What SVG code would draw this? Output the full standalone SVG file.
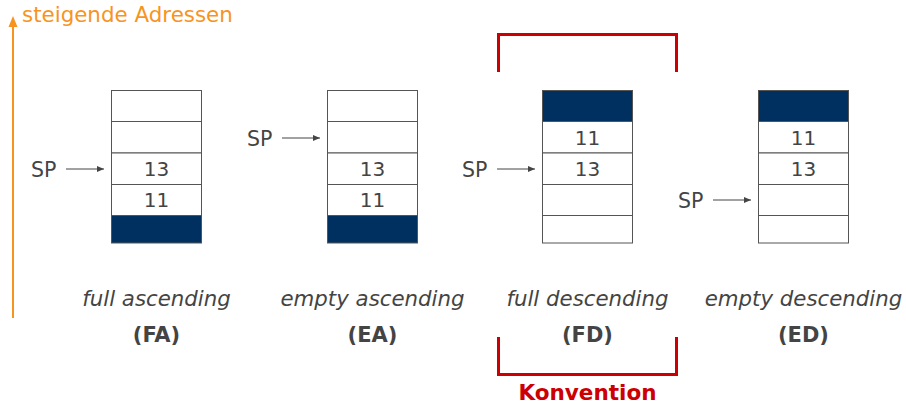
<svg xmlns="http://www.w3.org/2000/svg" width="906" height="403" viewBox="0 0 906 403">
  <style>
    text { font-family: "DejaVu Sans", "Liberation Sans", sans-serif; fill: #444; }
    .cell { fill: #fff; stroke: #555; stroke-width: 1; }
    .base { fill: #003060; stroke: #555; stroke-width: 1; }
    .num { font-size: 20px; text-anchor: middle; }
    .sp { font-size: 20.5px; }
    .ptr { stroke: #444; stroke-width: 1; fill: none; }
    .name { font-size: 21.3px; font-style: italic; text-anchor: middle; }
    .abbr { font-size: 21px; font-weight: bold; text-anchor: middle; }
    .conv { stroke: #cc0000; stroke-width: 3; fill: none; }
  </style>
  <defs>
    <marker id="ptrHead" markerWidth="8" markerHeight="8" refX="7" refY="4" orient="auto" markerUnits="userSpaceOnUse">
      <path d="M0,1 L7,4 L0,7 Z" fill="#444"/>
    </marker>
  </defs>

  <!-- address direction -->
  <g id="address-axis">
    <line x1="13" y1="318" x2="13" y2="26" stroke="#f7941d" stroke-width="2"/>
    <path d="M8.5,27 L13,16 L17.5,27 Z" fill="#f7941d"/>
    <text x="22" y="22" style="font-size:21.4px; fill:#f7941d">steigende Adressen</text>
  </g>

  <!-- full ascending -->
  <g id="stack-fa">
    <rect class="cell" x="111.5" y="90.5" width="90" height="31"/>
    <rect class="cell" x="111.5" y="121.5" width="90" height="31.5"/>
    <rect class="cell" x="111.5" y="153" width="90" height="31.5"/>
    <rect class="cell" x="111.5" y="184.5" width="90" height="31"/>
    <rect class="base" x="111.5" y="215.5" width="90" height="27.5"/>
    <text class="num" x="156.5" y="176">13</text>
    <text class="num" x="156.5" y="207">11</text>
    <text class="name" x="156.5" y="306">full ascending</text>
    <text class="abbr" x="156.5" y="342">(FA)</text>
  </g>

  <!-- empty ascending -->
  <g id="stack-ea">
    <rect class="cell" x="327.5" y="90.5" width="90" height="31"/>
    <rect class="cell" x="327.5" y="121.5" width="90" height="31.5"/>
    <rect class="cell" x="327.5" y="153" width="90" height="31.5"/>
    <rect class="cell" x="327.5" y="184.5" width="90" height="31"/>
    <rect class="base" x="327.5" y="215.5" width="90" height="27.5"/>
    <text class="num" x="372.5" y="176">13</text>
    <text class="num" x="372.5" y="207">11</text>
    <text class="name" x="372.5" y="306">empty ascending</text>
    <text class="abbr" x="372.5" y="342">(EA)</text>
  </g>

  <!-- full descending -->
  <g id="stack-fd">
    <rect class="base" x="542.5" y="90.5" width="90" height="31"/>
    <rect class="cell" x="542.5" y="121.5" width="90" height="31.5"/>
    <rect class="cell" x="542.5" y="153" width="90" height="31.5"/>
    <rect class="cell" x="542.5" y="184.5" width="90" height="31"/>
    <rect class="cell" x="542.5" y="215.5" width="90" height="27.5"/>
    <text class="num" x="587.5" y="145">11</text>
    <text class="num" x="587.5" y="176">13</text>
    <text class="name" x="587.5" y="306">full descending</text>
    <text class="abbr" x="587.5" y="342">(FD)</text>
  </g>

  <!-- empty descending -->
  <g id="stack-ed">
    <rect class="base" x="758.5" y="90.5" width="90" height="31"/>
    <rect class="cell" x="758.5" y="121.5" width="90" height="31.5"/>
    <rect class="cell" x="758.5" y="153" width="90" height="31.5"/>
    <rect class="cell" x="758.5" y="184.5" width="90" height="31"/>
    <rect class="cell" x="758.5" y="215.5" width="90" height="27.5"/>
    <text class="num" x="803.5" y="145">11</text>
    <text class="num" x="803.5" y="176">13</text>
    <text class="name" x="803.5" y="306">empty descending</text>
    <text class="abbr" x="803.5" y="342">(ED)</text>
  </g>

  <!-- stack pointer labels -->
  <g id="sp-labels">
    <text class="sp" x="31" y="176.5">SP</text>
    <text class="sp" x="247" y="145.5">SP</text>
    <text class="sp" x="462" y="176.5">SP</text>
    <text class="sp" x="678" y="207.5">SP</text>
  </g>

  <!-- stack pointer arrows -->
  <g id="connectors">
    <line class="ptr" x1="66" y1="169" x2="104" y2="169" marker-end="url(#ptrHead)"/>
    <line class="ptr" x1="282" y1="138" x2="320" y2="138" marker-end="url(#ptrHead)"/>
    <line class="ptr" x1="497" y1="169" x2="535" y2="169" marker-end="url(#ptrHead)"/>
    <line class="ptr" x1="713" y1="200" x2="751" y2="200" marker-end="url(#ptrHead)"/>
  </g>

  <!-- convention brackets -->
  <g id="convention">
    <path class="conv" d="M498.5,72 V34.5 H676.5 V72"/>
    <path class="conv" d="M498.5,337 V374.5 H676.5 V337"/>
    <text x="587.5" y="399.5" style="font-size:21.5px; font-weight:bold; fill:#cc0000; text-anchor:middle">Konvention</text>
  </g>
</svg>
